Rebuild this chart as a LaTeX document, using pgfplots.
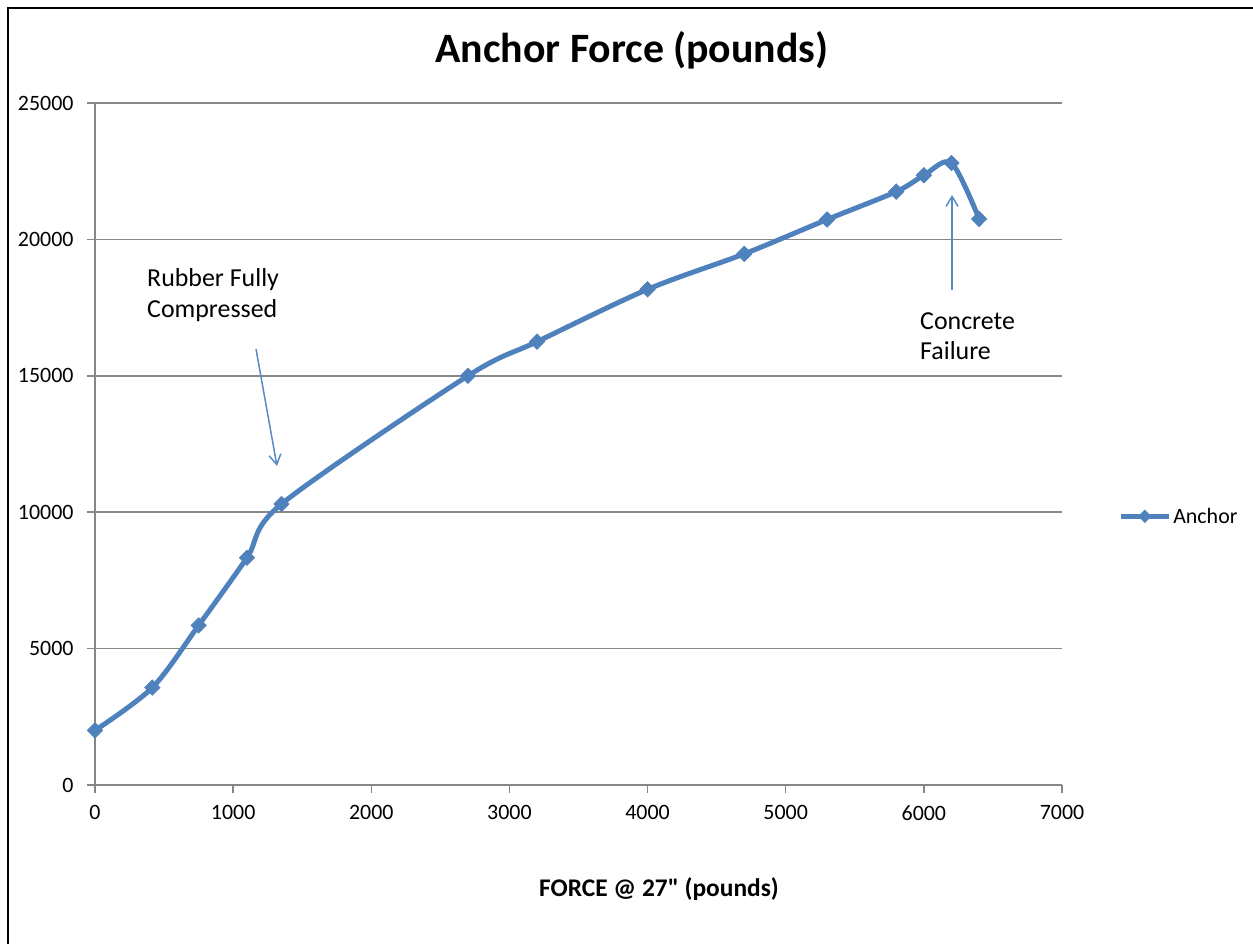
\documentclass[border=0pt]{standalone}
\usepackage{fontspec}
\setmainfont{Carlito}
\usepackage{pgfplots}
\pgfplotsset{compat=1.18}
\usetikzlibrary{arrows.meta}
\definecolor{xlblue}{HTML}{4F81BD}
\definecolor{gridgray}{HTML}{868686}
\definecolor{arrowblue}{HTML}{5B8BC6}

\begin{document}
\begin{tikzpicture}
\path[use as bounding box] (0bp,0bp) rectangle (1253bp,944bp);
\draw[line width=2bp] (8bp,0bp) -- (8bp,936bp) -- (1253bp,936bp);

\begin{axis}[
  at={(95bp,159bp)}, anchor=south west,
  scale only axis, width=967bp, height=682bp,
  xmin=0, xmax=7000, ymin=0, ymax=25000,
  xtick={0,1000,...,7000}, ytick={0,5000,...,25000},
  axis x line*=bottom, axis y line*=left,
  axis line style={gridgray, line width=1.5bp, -},
  ymajorgrids, grid style={gridgray, line width=1.5bp},
  tick align=outside, major tick length=8bp,
  tick style={gridgray, line width=1.5bp},
  ticklabel style={font=\fontsize{22}{26}\selectfont, text=black},
  yticklabel style={xshift=-10bp},
  xticklabel style={yshift=-9bp},
  /pgf/number format/assume math mode=true,
  scaled ticks=false, /pgf/number format/set thousands separator={},
  clip=false,
  legend style={at={(1.058,0.394)}, anchor=west, draw=none, fill=none,
    font=\fontsize{22}{26}\selectfont, inner sep=0pt},
  legend image code/.code={\draw[mark repeat=2,mark phase=2, mark size=6bp]
    plot coordinates {(0bp,0bp)(24bp,0bp)(48bp,0bp)};},
]
\addplot[xlblue, line width=5bp, smooth, mark=diamond*, mark size=7.5bp,
  mark options={solid, fill=xlblue, draw=xlblue, line width=1bp, xscale=1.33}]
  coordinates {
  (0,2000) (415,3570) (750,5850) (1100,8330) (1350,10300)
  (2700,15000) (3200,16250) (4000,18170) (4700,19470) (5300,20730)
  (5800,21750) (6000,22350) (6200,22800) (6400,20750)
  };
\addlegendentry{Anchor}
\end{axis}

\node[font=\bfseries\fontsize{42}{50}\selectfont, anchor=base] at (632bp,881bp) {Anchor Force (pounds)};
\node[font=\bfseries\fontsize{25.5}{30}\selectfont, anchor=base] at (659bp,47bp)
  {FORCE @ 27{\addfontfeatures{Ligatures=TeXOff}"} (pounds)};

\node[font=\fontsize{26}{31}\selectfont, anchor=base west, inner sep=0pt] at (147bp,657bp) {Rubber Fully};
\node[font=\fontsize{26}{31}\selectfont, anchor=base west, inner sep=0pt] at (147bp,626bp) {Compressed};
\draw[arrowblue, line width=1.5bp, -{Straight Barb[length=10bp,width=12bp]}] (256bp,595bp) -- (277bp,478bp);

\node[font=\fontsize{26}{31}\selectfont, anchor=base west, inner sep=0pt] at (920bp,614bp) {Concrete};
\node[font=\fontsize{26}{31}\selectfont, anchor=base west, inner sep=0pt] at (920bp,584bp) {Failure};
\draw[arrowblue, line width=1.5bp, -{Straight Barb[length=10bp,width=12bp]}] (952bp,654bp) -- (952bp,749bp);
\end{tikzpicture}
\end{document}
